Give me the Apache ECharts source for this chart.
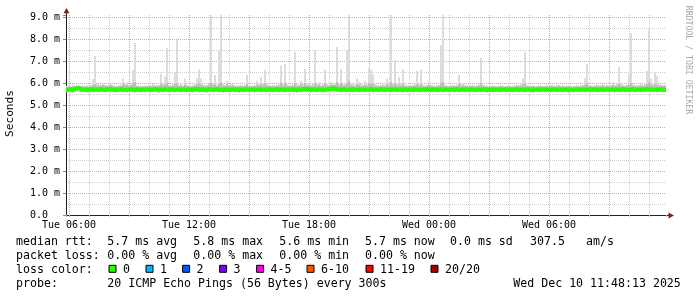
<!DOCTYPE html>
<html>
<head>
<meta charset="utf-8">
<script src="https://cdn.jsdelivr.net/npm/echarts@6.0.0/dist/echarts.min.js"></script>
<style>
html,body{margin:0;padding:0;background:#ffffff;}
#chart{width:697px;height:297px;}
</style>
</head>
<body>
<div id="chart"></div>
<script>
// ---------------- data (hours relative to Tue 06:00, 0.1 h per sample) ----------------
const sampleStart = -0.15;
const sampleStep = 0.1;

// top of the ping "smoke" (max ping per step), ms
const smokeTop = [
5.86,5.88,5.86,5.90,5.88,5.86,5.85,5.87,5.88,5.86,5.90,5.88,5.92,6.18,7.23,5.95,5.94,5.92,5.95,5.93,
5.90,5.92,5.95,5.90,5.88,5.86,5.90,5.92,6.20,5.95,6.05,5.92,5.95,6.60,7.83,5.90,5.88,5.86,5.88,5.90,
5.88,5.92,5.90,5.95,5.92,5.90,5.92,6.42,5.95,6.30,7.59,5.92,5.90,5.95,6.50,8.05,5.92,5.95,5.90,6.20,
5.92,5.90,5.88,5.92,5.95,6.20,6.60,6.20,5.95,5.90,5.92,5.95,9.14,5.95,6.36,5.92,7.45,9.09,5.95,5.92,
6.10,5.92,5.95,5.95,5.90,5.88,5.90,5.92,5.90,5.92,6.36,5.90,5.88,5.90,5.92,6.10,5.95,6.27,6.00,6.60,
5.95,5.92,5.90,5.92,5.90,5.92,5.95,6.80,5.95,6.86,5.95,5.92,5.90,5.95,7.41,5.95,5.92,6.10,5.95,6.64,
5.95,5.98,5.92,5.95,7.50,5.95,6.05,5.92,5.95,6.60,5.95,5.92,6.05,5.95,6.00,7.64,5.95,6.64,5.95,5.98,
7.50,9.09,5.98,5.95,5.92,6.20,6.05,5.95,5.92,6.10,5.95,6.68,6.60,6.40,5.95,5.92,5.90,5.92,5.95,5.92,
6.20,5.95,9.09,5.98,7.05,5.95,6.27,5.95,6.64,5.92,5.90,5.92,5.90,5.92,5.95,6.55,5.95,6.60,5.92,5.90,
5.92,6.10,5.92,5.90,5.88,5.90,5.92,7.73,9.09,5.92,5.90,5.88,5.90,5.92,5.90,5.92,6.36,5.95,6.00,5.92,
5.90,5.88,5.90,5.92,5.88,5.90,5.95,7.14,5.92,5.90,5.88,5.86,5.88,5.90,5.88,5.86,5.88,5.90,5.88,5.86,
5.88,5.90,5.86,5.88,5.90,5.92,5.90,5.95,6.20,7.41,5.92,5.90,5.88,5.90,5.86,5.88,5.90,5.88,5.86,5.88,
5.90,5.88,5.92,5.90,5.88,5.90,5.92,5.88,5.90,5.86,5.88,5.90,5.88,5.86,5.88,5.90,5.88,5.90,5.92,6.20,
6.86,5.92,5.90,5.88,5.90,5.92,5.90,5.92,5.95,5.90,5.92,5.90,5.92,6.05,5.92,5.95,6.73,5.95,5.92,5.90,
5.92,6.40,8.27,5.95,5.92,5.90,5.92,5.95,5.92,5.95,6.55,8.41,6.20,5.95,6.50,6.32,5.95,5.92,5.90,5.92
];

// upper edge of the denser (darker) part of the smoke, ms
const smokeMid = [
5.82,5.84,5.82,5.85,5.84,5.83,5.82,5.83,5.84,5.82,5.85,5.84,5.86,5.90,5.95,5.88,5.88,5.87,5.90,5.88,
5.86,5.88,5.90,5.86,5.84,5.82,5.85,5.86,5.98,5.90,5.92,5.86,5.90,6.00,6.05,5.86,5.84,5.82,5.84,5.85,
5.84,5.86,5.85,5.88,5.86,5.85,5.86,5.95,5.90,5.92,6.00,5.86,5.85,5.88,5.95,5.98,5.86,5.88,5.85,5.92,
5.86,5.85,5.84,5.86,5.88,5.94,6.00,5.92,5.88,5.85,5.86,5.90,6.00,5.90,5.95,5.86,5.95,6.02,5.88,5.86,
5.95,5.86,5.88,5.88,5.85,5.84,5.85,5.86,5.85,5.86,5.95,5.85,5.84,5.85,5.86,5.92,5.88,5.95,5.90,5.98,
5.88,5.86,5.85,5.86,5.85,5.86,5.88,6.00,5.88,6.00,5.88,5.86,5.85,5.88,5.98,5.88,5.86,5.95,5.88,5.98,
5.88,5.90,5.86,5.88,6.00,5.88,5.92,5.86,5.88,5.98,5.88,5.86,5.92,5.90,5.92,6.05,5.90,6.00,5.88,5.90,
6.00,6.10,5.90,5.88,5.86,5.95,5.92,5.88,5.86,5.92,5.88,6.00,5.98,5.95,5.88,5.86,5.85,5.86,5.88,5.86,
5.95,5.88,6.05,5.90,5.98,5.88,5.94,5.88,5.98,5.86,5.85,5.86,5.85,5.86,5.88,5.95,5.88,5.96,5.86,5.85,
5.86,5.92,5.86,5.85,5.84,5.85,5.86,6.00,6.05,5.86,5.85,5.84,5.85,5.86,5.85,5.86,5.95,5.88,5.90,5.86,
5.85,5.84,5.85,5.86,5.84,5.85,5.88,5.98,5.86,5.85,5.84,5.82,5.84,5.85,5.84,5.82,5.84,5.85,5.84,5.82,
5.84,5.85,5.82,5.84,5.85,5.86,5.85,5.88,5.95,5.98,5.86,5.85,5.84,5.85,5.82,5.84,5.85,5.84,5.82,5.84,
5.85,5.84,5.86,5.85,5.84,5.85,5.86,5.84,5.85,5.82,5.84,5.85,5.84,5.82,5.84,5.85,5.84,5.85,5.86,5.92,
5.98,5.86,5.85,5.84,5.85,5.86,5.85,5.86,5.88,5.85,5.86,5.85,5.86,5.92,5.86,5.88,5.95,5.88,5.86,5.85,
5.86,5.92,6.00,5.88,5.86,5.85,5.86,5.88,5.86,5.88,5.95,6.02,5.92,5.88,5.94,5.92,5.88,5.86,5.85,5.86
];

// bottom of the smoke (min ping per step), ms
const smokeLow = [
5.58,5.60,5.58,5.57,5.60,5.62,5.60,5.58,5.59,5.60,5.58,5.57,5.60,5.58,5.59,5.60,5.58,5.60,5.59,5.58,
5.60,5.59,5.58,5.60,5.57,5.58,5.60,5.59,5.58,5.60,5.58,5.59,5.60,5.58,5.57,5.60,5.59,5.58,5.60,5.58,
5.59,5.60,5.58,5.60,5.59,5.58,5.57,5.60,5.58,5.59,5.60,5.58,5.59,5.60,5.58,5.60,5.59,5.58,5.60,5.59,
5.58,5.60,5.59,5.58,5.60,5.60,5.58,5.59,5.60,5.58,5.57,5.59,5.60,5.58,5.60,5.59,5.58,5.60,5.57,5.59,
5.60,5.58,5.59,5.60,5.58,5.59,5.57,5.60,5.58,5.59,5.60,5.58,5.60,5.59,5.58,5.60,5.59,5.58,5.60,5.59,
5.58,5.60,5.59,5.58,5.60,5.59,5.58,5.60,5.59,5.58,5.60,5.59,5.60,5.58,5.59,5.57,5.60,5.58,5.60,5.61,
5.60,5.59,5.58,5.60,5.59,5.58,5.60,5.59,5.58,5.60,5.60,5.61,5.62,5.63,5.62,5.60,5.59,5.58,5.60,5.59,
5.58,5.60,5.59,5.58,5.60,5.59,5.58,5.60,5.59,5.58,5.60,5.59,5.60,5.58,5.60,5.59,5.58,5.60,5.59,5.58,
5.60,5.59,5.58,5.60,5.59,5.58,5.60,5.59,5.57,5.60,5.58,5.59,5.60,5.58,5.59,5.60,5.58,5.59,5.60,5.58,
5.59,5.60,5.58,5.59,5.60,5.58,5.59,5.60,5.58,5.60,5.59,5.58,5.60,5.59,5.58,5.60,5.58,5.59,5.60,5.58,
5.60,5.58,5.59,5.60,5.58,5.59,5.60,5.58,5.59,5.60,5.57,5.59,5.60,5.58,5.59,5.60,5.58,5.59,5.60,5.59,
5.58,5.60,5.59,5.58,5.60,5.59,5.58,5.60,5.59,5.58,5.60,5.59,5.58,5.57,5.60,5.59,5.58,5.60,5.59,5.58,
5.60,5.59,5.58,5.60,5.59,5.58,5.60,5.59,5.58,5.60,5.59,5.57,5.60,5.58,5.59,5.60,5.58,5.59,5.60,5.58,
5.59,5.60,5.58,5.59,5.60,5.58,5.59,5.60,5.58,5.60,5.59,5.58,5.60,5.59,5.58,5.60,5.58,5.59,5.60,5.58,
5.60,5.58,5.59,5.60,5.58,5.59,5.60,5.58,5.59,5.60,5.60,5.60,5.58,5.59,5.60,5.58,5.59,5.60,5.58,5.59
];

// median rtt per step, ms
const medianRtt = [
5.70,5.70,5.71,5.70,5.74,5.77,5.77,5.74,5.70,5.70,5.69,5.70,5.70,5.71,5.70,5.70,5.70,5.71,5.70,5.70,
5.70,5.71,5.72,5.70,5.69,5.70,5.70,5.71,5.70,5.70,5.70,5.70,5.71,5.70,5.70,5.70,5.69,5.70,5.70,5.70,
5.71,5.70,5.70,5.70,5.72,5.71,5.70,5.70,5.70,5.71,5.70,5.70,5.69,5.70,5.70,5.71,5.70,5.70,5.70,5.70,
5.70,5.71,5.70,5.70,5.72,5.73,5.71,5.70,5.70,5.70,5.70,5.71,5.70,5.70,5.70,5.71,5.70,5.70,5.69,5.70,
5.70,5.70,5.70,5.71,5.70,5.70,5.69,5.70,5.70,5.70,5.71,5.70,5.70,5.70,5.70,5.70,5.71,5.70,5.70,5.70,
5.70,5.71,5.70,5.70,5.70,5.71,5.70,5.70,5.70,5.70,5.70,5.70,5.71,5.70,5.70,5.69,5.70,5.70,5.72,5.73,
5.72,5.71,5.70,5.70,5.70,5.70,5.71,5.70,5.70,5.70,5.71,5.72,5.74,5.76,5.74,5.72,5.70,5.70,5.70,5.71,
5.70,5.70,5.70,5.71,5.70,5.70,5.70,5.70,5.70,5.71,5.70,5.70,5.72,5.70,5.70,5.70,5.70,5.71,5.70,5.70,
5.70,5.70,5.70,5.70,5.71,5.70,5.70,5.70,5.69,5.70,5.70,5.70,5.70,5.70,5.71,5.70,5.70,5.70,5.70,5.70,
5.71,5.70,5.70,5.70,5.70,5.70,5.70,5.71,5.70,5.70,5.70,5.70,5.70,5.70,5.70,5.71,5.70,5.70,5.70,5.70,
5.70,5.70,5.71,5.70,5.70,5.70,5.70,5.70,5.70,5.70,5.69,5.70,5.70,5.70,5.70,5.70,5.70,5.70,5.70,5.71,
5.70,5.70,5.70,5.70,5.70,5.71,5.70,5.70,5.70,5.70,5.70,5.70,5.70,5.69,5.70,5.70,5.70,5.70,5.71,5.70,
5.70,5.70,5.70,5.70,5.71,5.70,5.70,5.70,5.70,5.70,5.70,5.69,5.70,5.70,5.70,5.70,5.71,5.70,5.70,5.70,
5.70,5.70,5.71,5.70,5.70,5.70,5.70,5.70,5.70,5.70,5.71,5.70,5.70,5.70,5.70,5.70,5.70,5.70,5.71,5.70,
5.70,5.70,5.70,5.71,5.70,5.70,5.70,5.70,5.70,5.70,5.72,5.71,5.70,5.70,5.70,5.70,5.70,5.71,5.70,5.70
];

// axis ticks / labels
const xRange = [-0.15, 29.85];
const xTickHours = [0, 6, 12, 18, 24];
const xTickLabels = ['Tue 06:00', 'Tue 12:00', 'Tue 18:00', 'Wed 00:00', 'Wed 06:00'];
const yMax = 200 / 22;
const yTickValues = [0, 1, 2, 3, 4, 5, 6, 7, 8, 9];
const yTickLabels = ['0.0  ', '1.0 m', '2.0 m', '3.0 m', '4.0 m', '5.0 m', '6.0 m', '7.0 m', '8.0 m', '9.0 m'];

// legend / statistics text
const rttLabel = 'median rtt:';
const rttStats = ['5.7 ms avg', '5.8 ms max', '5.6 ms min', '5.7 ms now', '0.0 ms sd', '307.5', 'am/s'];
const lossLabel = 'packet loss:';
const lossStats = ['0.00 % avg', '0.00 % max', '0.00 % min', '0.00 % now'];
const lossColorLabel = 'loss color:';
const lossColorNames = ['0', '1', '2', '3', '4-5', '6-10', '11-19', '20/20'];
const lossColorValues = ['#26ff00', '#00b8ff', '#0059ff', '#7e00ff', '#ff00ea', '#ff5500', '#ff0000', '#a00000'];
const probeLabel = 'probe:';
const probeText = '20 ICMP Echo Pings (56 Bytes) every 300s';
const stampText = 'Wed Dec 10 11:48:13 2025';
const yAxisTitle = 'Seconds';
const watermark = 'RRDTOOL / TOBI OETIKER';

// ---------------- layout / style ----------------
const MONO = '"DejaVu Sans Mono", monospace';
const GRID_MINOR = '#cdcdcd';
const GRID_MAJOR = '#e0a3a3';
const AXIS_COL = '#202020';
const ARROW_COL = '#802020';

const smokeData = smokeTop.map((v, i) => [sampleStart + i * sampleStep, smokeLow[i], smokeMid[i], v]);
const medianData = medianRtt.map((v, i) => [sampleStart + i * sampleStep, v]);

function xLabel(v) {
  for (let k = 0; k < xTickHours.length; k++) if (Math.abs(v - xTickHours[k]) < 1e-6) return xTickLabels[k];
  return '';
}
function yLabel(v) {
  for (let k = 0; k < yTickValues.length; k++) if (Math.abs(v - yTickValues[k]) < 1e-6) return yTickLabels[k];
  return '';
}

const commonX = {
  type: 'value', min: xRange[0], max: xRange[1], position: 'bottom',
  axisLine: { onZero: false }
};
const commonY = {
  type: 'value', min: 0, max: yMax, position: 'left',
  axisLine: { onZero: false }
};

const textRows = [242.3, 256, 270, 284];
const colX = [107.3, 193.3, 279.3, 365, 450, 530, 586];
const boxX = [108.7, 145.7, 182.3, 219.3, 256.3, 306.7, 365.7, 430.7];

const graphics = [];
function txt(s, x, y, extra) {
  graphics.push(Object.assign({
    type: 'text', x: x, y: y, silent: true,
    style: { text: s, font: '11.6px ' + MONO, fill: '#000', align: 'left', verticalAlign: 'middle' }
  }, extra || {}));
}
txt(rttLabel, 16, textRows[0]);
rttStats.forEach((s, k) => txt(s, colX[k], textRows[0]));
txt(lossLabel, 16, textRows[1]);
lossStats.forEach((s, k) => txt(s, colX[k], textRows[1]));
txt(lossColorLabel, 16, textRows[2]);
lossColorNames.forEach((s, k) => {
  graphics.push({ type: 'rect', silent: true, shape: { x: boxX[k] + 0.3, y: 265.3, width: 7, height: 7 },
    style: { fill: lossColorValues[k], stroke: '#000', lineWidth: 1 } });
  txt(s, boxX[k] + 14.3, textRows[2]);
});
txt(probeLabel, 16, textRows[3]);
txt(probeText, colX[0], textRows[3]);
txt(stampText, 513.3, textRows[3]);

// y-axis title and watermark
graphics.push({ type: 'text', x: 10.5, y: 113.5, rotation: Math.PI / 2, silent: true,
  style: { text: yAxisTitle, font: '11.2px ' + MONO, fill: '#000', align: 'center', verticalAlign: 'middle' } });
graphics.push({ type: 'text', x: 688.5, y: 60, rotation: -Math.PI / 2, silent: true,
  style: { text: watermark, font: '8.2px ' + MONO, fill: '#a8a8a8', align: 'center', verticalAlign: 'middle' } });

// axis arrows
graphics.push({ type: 'line', silent: true, shape: { x1: 66.5, y1: 15, x2: 66.5, y2: 12 }, style: { stroke: AXIS_COL, lineWidth: 1 } });
graphics.push({ type: 'polygon', silent: true, shape: { points: [[66.5, 8], [63.5, 13.3], [69.5, 13.3]] }, style: { fill: ARROW_COL } });
graphics.push({ type: 'line', silent: true, shape: { x1: 666, y1: 215.5, x2: 669, y2: 215.5 }, style: { stroke: AXIS_COL, lineWidth: 1 } });
graphics.push({ type: 'polygon', silent: true, shape: { points: [[674, 215.5], [668.5, 212.5], [668.5, 218.5]] }, style: { fill: ARROW_COL } });

const chart = echarts.init(document.getElementById('chart'), null, { renderer: 'canvas', width: 697, height: 297 });
chart.setOption({
  animation: false,
  backgroundColor: '#ffffff',
  grid: { left: 66, right: 31, top: 15, bottom: 82, containLabel: false, outerBoundsMode: 'none' },
  xAxis: [
    Object.assign({}, commonX, {
      minInterval: 1, maxInterval: 1,
      axisLine: { show: true, onZero: false, lineStyle: { color: AXIS_COL, width: 1 } },
      axisTick: { show: true, length: 2, lineStyle: { color: GRID_MINOR } },
      axisLabel: { show: false },
      splitLine: { show: true, showMinLine: false, showMaxLine: false, lineStyle: { color: GRID_MINOR, width: 1, type: [1, 1] } }
    }),
    Object.assign({}, commonX, {
      minInterval: 3, maxInterval: 3,
      axisLine: { show: false, onZero: false },
      axisTick: { show: true, length: 2, lineStyle: { color: GRID_MAJOR } },
      axisLabel: { show: true, margin: 5, color: '#000', fontFamily: MONO, fontSize: 10, formatter: xLabel, showMinLabel: true, showMaxLabel: true },
      splitLine: { show: true, showMinLine: false, showMaxLine: false, lineStyle: { color: GRID_MAJOR, width: 1, type: [1, 1] } }
    })
  ],
  yAxis: [
    Object.assign({}, commonY, {
      interval: 0.5,
      axisLine: { show: true, onZero: false, lineStyle: { color: AXIS_COL, width: 1 } },
      axisTick: { show: false },
      axisLabel: { show: false },
      splitLine: { show: true, showMinLine: false, showMaxLine: false, lineStyle: { color: GRID_MINOR, width: 1, type: [1, 1] } }
    }),
    Object.assign({}, commonY, {
      interval: 1,
      axisLine: { show: false, onZero: false },
      axisTick: { show: true, length: 3, lineStyle: { color: '#8a8a8a' } },
      axisLabel: { show: true, margin: 6, color: '#000', fontFamily: MONO, fontSize: 10, formatter: yLabel, showMinLabel: true, showMaxLabel: true },
      splitLine: { show: true, showMinLine: false, showMaxLine: false, lineStyle: { color: GRID_MAJOR, width: 1, type: [1, 1] } }
    })
  ],
  series: [
    {
      name: 'smoke', type: 'custom', xAxisIndex: 0, yAxisIndex: 0, data: smokeData, silent: true, clip: true,
      encode: { x: 0, y: [1, 3] },
      renderItem: function (params, api) {
        const t = api.value(0);
        const a = api.coord([t, api.value(3)]);
        const b = api.coord([t + sampleStep, api.value(1)]);
        const m = api.coord([t, api.value(2)]);
        return { type: 'group', children: [
          { type: 'rect', shape: { x: a[0], y: a[1], width: b[0] - a[0], height: b[1] - a[1] }, style: { fill: '#dcdcdc' } },
          { type: 'rect', shape: { x: a[0], y: m[1], width: b[0] - a[0], height: b[1] - m[1] }, style: { fill: '#bdbdbd' } }
        ] };
      }
    },
    {
      name: 'median rtt', type: 'custom', xAxisIndex: 0, yAxisIndex: 0, data: medianData, silent: true, clip: true,
      encode: { x: 0, y: 1 },
      renderItem: function (params, api) {
        const t = api.value(0);
        const a = api.coord([t, api.value(1)]);
        const b = api.coord([t + sampleStep, api.value(1)]);
        return { type: 'rect', shape: { x: a[0], y: a[1] - 2.2, width: b[0] - a[0], height: 4.4 }, style: { fill: lossColorValues[0] } };
      }
    }
  ],
  graphic: graphics
});
</script>
</body>
</html>
